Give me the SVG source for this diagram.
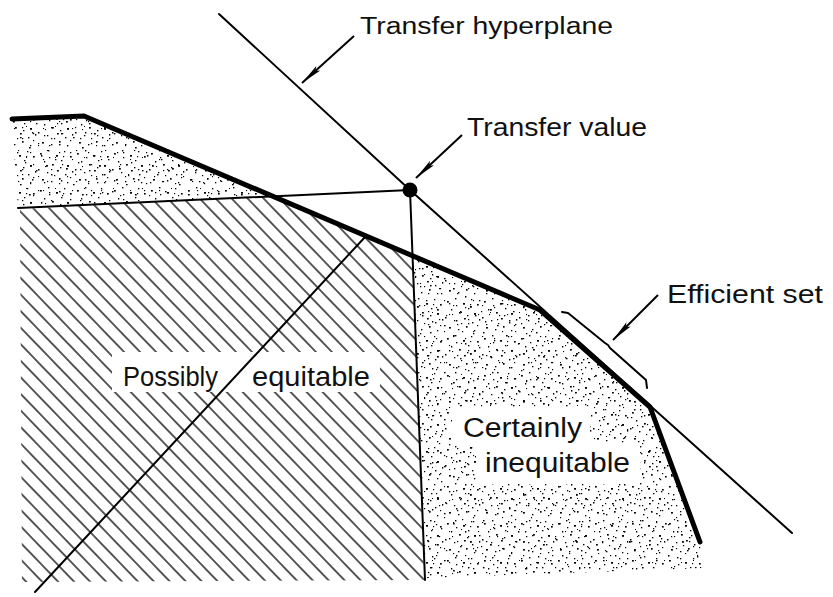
<svg xmlns="http://www.w3.org/2000/svg" width="833" height="597" viewBox="0 0 833 597">
<style>
.lbl{font-family:"Liberation Sans","DejaVu Sans",sans-serif;fill:#111;}
.thin{fill:none;stroke:#000;stroke-width:2;stroke-linecap:round;stroke-linejoin:round}
.thick{fill:none;stroke:#000;stroke-width:5;stroke-linecap:round;stroke-linejoin:round}
.lead{fill:none;stroke:#000;stroke-width:2}
</style>
<defs>
<pattern id="dotsA" patternUnits="userSpaceOnUse" width="37" height="37">
<g fill="#000">
<rect x="3" y="5" width="1.8" height="1.6"/><rect x="11" y="2" width="1.4" height="1.4"/><rect x="19" y="7" width="2" height="1.7"/><rect x="27" y="3" width="1.3" height="1.3"/><rect x="33" y="8" width="1.7" height="1.6"/>
<rect x="7" y="13" width="1.3" height="1.5"/><rect x="15" y="16" width="1.8" height="1.6"/><rect x="24" y="12" width="1.4" height="1.3"/><rect x="30" y="17" width="2" height="1.8"/><rect x="1" y="21" width="1.5" height="1.5"/>
<rect x="10" y="24" width="1.3" height="1.3"/><rect x="20" y="22" width="1.8" height="1.5"/><rect x="28" y="26" width="1.4" height="1.4"/><rect x="35" y="23" width="1.3" height="1.6"/><rect x="5" y="31" width="1.9" height="1.6"/>
<rect x="14" y="33" width="1.4" height="1.3"/><rect x="22" y="30" width="1.6" height="1.7"/><rect x="30" y="34" width="1.3" height="1.3"/><rect x="12" y="9" width="1.3" height="1.3"/><rect x="23" y="19" width="1.4" height="1.3"/>
<rect x="17" y="27" width="1.2" height="1.2"/><rect x="33" y="29" width="1.2" height="1.2"/><rect x="8" y="18" width="1.1" height="1.1"/><rect x="26" y="8" width="1.2" height="1.2"/>
</g>
</pattern>
<pattern id="dotsB" patternUnits="userSpaceOnUse" width="53" height="47">
<g fill="#000">
<rect x="6" y="3" width="1.5" height="1.4"/><rect x="17" y="11" width="1.3" height="1.3"/><rect x="29" y="6" width="1.7" height="1.5"/><rect x="41" y="14" width="1.4" height="1.6"/><rect x="49" y="4" width="1.3" height="1.3"/>
<rect x="2" y="18" width="1.4" height="1.3"/><rect x="13" y="27" width="1.8" height="1.6"/><rect x="25" y="21" width="1.3" height="1.4"/><rect x="36" y="29" width="1.5" height="1.3"/><rect x="46" y="24" width="1.8" height="1.8"/>
<rect x="8" y="39" width="1.3" height="1.5"/><rect x="20" y="43" width="1.6" height="1.3"/><rect x="32" y="38" width="1.4" height="1.5"/><rect x="44" y="41" width="1.3" height="1.3"/><rect x="51" y="33" width="1.5" height="1.4"/>
<rect x="22" y="33" width="1.2" height="1.2"/><rect x="38" y="2" width="1.2" height="1.2"/><rect x="4" y="29" width="1.2" height="1.2"/>
</g>
</pattern>
<pattern id="dotsC" patternUnits="userSpaceOnUse" width="29" height="31">
<g fill="#000">
<rect x="4" y="9" width="1.2" height="1.2"/><rect x="14" y="4" width="1.1" height="1.1"/><rect x="22" y="14" width="1.3" height="1.2"/><rect x="9" y="21" width="1.1" height="1.2"/><rect x="18" y="26" width="1.2" height="1.1"/><rect x="26" y="2" width="1" height="1"/><rect x="1" y="28" width="1.2" height="1.2"/>
</g>
</pattern>
<pattern id="hatch" patternUnits="userSpaceOnUse" width="30" height="11.5" patternTransform="rotate(46)">
<path d="M0,5.75 H30" stroke="#000" stroke-width="1.3"/>
</pattern>
<marker id="arr" markerUnits="userSpaceOnUse" markerWidth="24" markerHeight="10" refX="22" refY="4" orient="auto">
<path d="M0,1 L22,4 L0,7 L4,4 z" fill="#000"/>
</marker>
</defs>

<g id="regions">
<g id="stipple-upper">
<polygon points="12,119 84,116 274,196 18,208" fill="url(#dotsA)"/>
<polygon points="12,119 84,116 274,196 18,208" fill="url(#dotsB)"/>
<polygon points="12,119 84,116 274,196 18,208" fill="url(#dotsC)"/>
</g>
<g id="stipple-lower">
<polygon points="413,257 540,310 650,407 700,542 708,568 425,578" fill="url(#dotsA)"/>
<polygon points="413,257 540,310 650,407 700,542 708,568 425,578" fill="url(#dotsB)"/>
<polygon points="413,257 540,310 650,407 700,542 708,568 425,578" fill="url(#dotsC)"/>
<path d="M452,407 H590 V443 H640 V484 H476 V446 H452 z" fill="#fff"/>
</g>
<g id="hatch-region">
<polygon points="20,209 274,196 413,257 424,580 22,582" fill="url(#hatch)"/>
<rect x="112" y="352" width="268" height="40" fill="#fff"/>
</g>
</g>

<g id="connectors">
<path id="hyperplane" class="thin" d="M219,14 L410,190 L792,533"/>
<path id="horizontal" class="thin" d="M18,208 L410,190"/>
<path id="vertical" class="thin" d="M410,190 L425,580"/>
<path id="diagonal" class="thin" stroke-width="2.6" d="M35,592 L366,236"/>
<path id="frontier" class="thick" d="M12,119 L84,116 L540,310 L650,407 L700,542"/>
<path id="efficient-bracket" class="thin" d="M562,312 L568,313 L605,343 L608,345 L610,348 L646,380 L647,388"/>
<path id="lead-hyperplane" class="lead" marker-end="url(#arr)" d="M354,36 L302,83"/>
<path id="lead-value" class="lead" marker-end="url(#arr)" d="M462,135 L416,178"/>
<path id="lead-efficient" class="lead" marker-end="url(#arr)" d="M658,295 L613,340"/>
</g>

<g id="transfer-value-node">
<circle cx="410" cy="190" r="7.5" fill="#000"/>
</g>

<g id="label-transfer-hyperplane">
<text class="lbl" x="360" y="34" font-size="23" textLength="253" lengthAdjust="spacingAndGlyphs">Transfer hyperplane</text>
</g>
<g id="label-transfer-value">
<text class="lbl" x="467" y="136" font-size="25" textLength="180" lengthAdjust="spacingAndGlyphs">Transfer value</text>
</g>
<g id="label-efficient-set">
<text class="lbl" x="667" y="303" font-size="26" textLength="156" lengthAdjust="spacingAndGlyphs">Efficient set</text>
</g>
<g id="label-possibly-equitable">
<text class="lbl" x="123" y="386" font-size="27" textLength="95" lengthAdjust="spacingAndGlyphs">Possibly</text>
<text class="lbl" x="252" y="386" font-size="27" textLength="118" lengthAdjust="spacingAndGlyphs">equitable</text>
</g>
<g id="label-certainly-inequitable">
<text class="lbl" x="463" y="437" font-size="27" textLength="119" lengthAdjust="spacingAndGlyphs">Certainly</text>
<text class="lbl" x="485" y="472" font-size="27" textLength="145" lengthAdjust="spacingAndGlyphs">inequitable</text>
</g>
</svg>
